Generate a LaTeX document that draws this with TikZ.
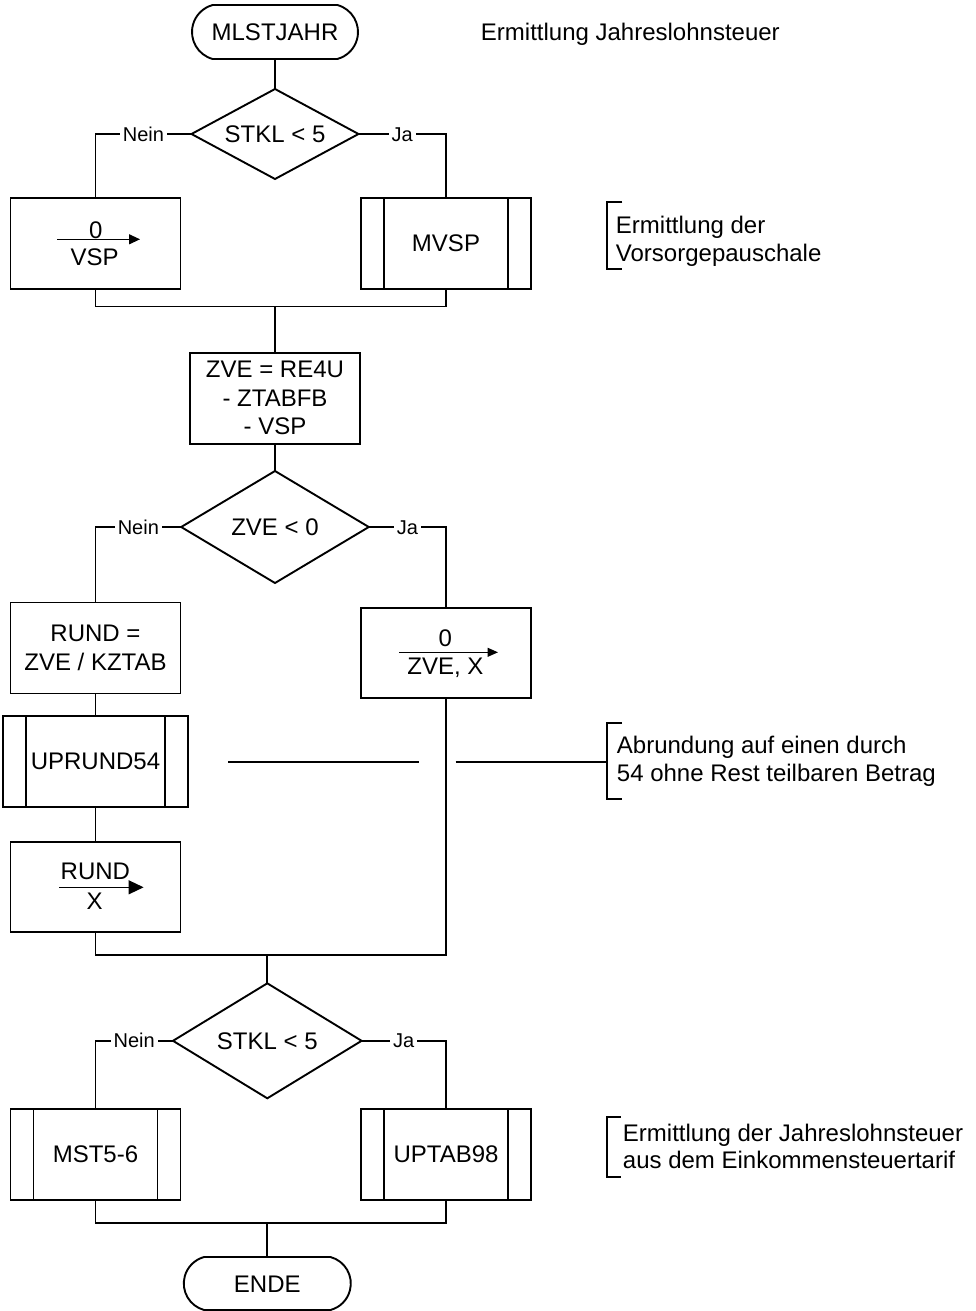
\documentclass[tikz,border=0pt]{standalone}
\usepackage{fontspec}
\setmainfont{Liberation Sans}
\usetikzlibrary{shapes.geometric,shapes.misc,arrows.meta}
\tikzset{
  txt/.style={inner sep=0pt, text height=17.2pt, text depth=0pt},
  term/.style={draw, rounded rectangle, rounded rectangle arc length=150, minimum width=166pt, minimum height=54pt, inner sep=0pt, outer sep=0pt, text height=17.2pt, text depth=0pt},
  dec/.style={draw, diamond, inner sep=0pt, outer sep=0pt, text height=17.2pt, text depth=0pt},
  proc/.style={draw, rectangle, minimum width=170pt, minimum height=91pt, inner sep=0pt, outer sep=0pt, align=center},
  lbl/.style={fill=white, font=\fontsize{20pt}{24pt}\selectfont, inner xsep=3pt, inner ysep=0pt, text height=14.3pt, text depth=0pt},
  ann/.style={inner sep=0pt, anchor=base west},
  valarrow/.style={line width=1.2pt},
}
\begin{document}
\begin{tikzpicture}[x=1pt, y=-1pt, line width=1.9pt,
  every node/.style={font=\fontsize{24pt}{28.5pt}\selectfont}]
\useasboundingbox (0,0) rectangle (976,1311);

% ---------- top part ----------
\node[term] (start) at (275,32) {MLSTJAHR};
\node[ann] (t0) at (480,40.5) {Ermittlung Jahreslohnsteuer};

\node[dec, shape aspect=1.86, minimum width=167pt, minimum height=90pt] (d1) at (275,134) {STKL < 5};

\node[proc] (vsp) at (95.5,243.5) {};
\node[txt] (vsp0) at (95.7,230) {0};
\node[txt] (vspv) at (94.6,256.7) {VSP};
\coordinate (va1) at (57,239.3);
\coordinate (va2) at (140,239.3);
\draw[valarrow, -{Triangle[length=11pt,width=10pt]}] (va1) -- (va2);

\node[proc] (mvsp) at (446,243.5) {MVSP};

\node[ann] (a1a) at (615,233.5) {Ermittlung der};
\node[ann] (a1b) at (615,261.5) {Vorsorgepauschale};
\draw (622.3,201.7) -- (606.7,201.7) -- (606.7,269.3) -- (622.3,269.3);

\draw (start) -- (d1.north);
\draw (d1.west) -- node[lbl] (n1) {Nein} (d1.west -| vsp.north) -- (vsp.north);
\draw (d1.east) -- node[lbl] (j1) {Ja} (d1.east -| mvsp.north) -- (mvsp.north);

\coordinate (m1) at (275,306.5);
\draw (vsp.south) |- (m1) -| (mvsp.south);

\node[proc] (zve) at (275,398.3) {ZVE = RE4U\\- ZTABFB\\- VSP};
\draw (m1) -- (zve.north);

\node[dec, shape aspect=1.67, minimum width=187.6pt, minimum height=112pt] (d2) at (275,527) {ZVE < 0};
\draw (zve.south) -- (d2.north);

% ---------- middle part ----------
\node[proc] (rund) at (95.5,648) {RUND =\\ZVE / KZTAB};
\node[proc, minimum height=89.7pt] (zvex) at (446,653) {};
\node[txt] (zvex0) at (445.4,638.3) {0};
\node[txt] (zvexv) at (445.4,666) {ZVE, X};
\coordinate (za1) at (399,652.3);
\coordinate (za2) at (498,652.3);
\draw[valarrow, -{Triangle[length=10.5pt,width=9pt]}] (za1) -- (za2);

\draw (d2.west) -- node[lbl] (n2) {Nein} (d2.west -| rund.north) -- (rund.north);
\draw (d2.east) -- node[lbl] (j2) {Ja} (d2.east -| zvex.north) -- (zvex.north);

\node[proc, minimum width=185.3pt] (uprund) at (95.5,761.5) {UPRUND54};
\draw (rund.south) -- (uprund.north);

\node[proc, minimum height=90pt] (rundx) at (95.5,887) {};
\node[txt] (rundx0) at (95.4,871.3) {RUND};
\node[txt] (rundxv) at (94.6,901.3) {X};
\coordinate (ra1) at (59,887.3);
\coordinate (ra2) at (143.6,887.3);
\draw[valarrow, -{Triangle[length=15pt,width=14pt]}] (ra1) -- (ra2);
\draw (uprund.south) -- (rundx.north);

% comment line with gap
\coordinate (c1) at (228,761.7);
\coordinate (c2) at (418.6,761.7);
\coordinate (c3) at (455.7,761.7);
\coordinate (c4) at (606.7,761.7);
\draw (c1) -- (c2);
\draw (c3) -- (c4);
\draw (622,723.3) -- (606.7,723.3) -- (606.7,799) -- (622,799);
\node[ann] (a2a) at (616,753.5) {Abrundung auf einen durch};
\node[ann] (a2b) at (616,781.3) {54 ohne Rest teilbaren Betrag};

\coordinate (m2) at (267.3,955);
\draw (rundx.south) |- (m2) -| (zvex.south);

% ---------- bottom part ----------
\node[dec, shape aspect=1.64, minimum width=188.6pt, minimum height=115pt] (d3) at (267.3,1040.8) {STKL < 5};
\draw (m2) -- (d3.north);

\node[proc] (mst) at (95.5,1154.5) {MST5-6};
\node[proc] (uptab) at (446,1154.5) {UPTAB98};
\draw (d3.west) -- node[lbl] (n3) {Nein} (d3.west -| mst.north) -- (mst.north);
\draw (d3.east) -- node[lbl] (j3) {Ja} (d3.east -| uptab.north) -- (uptab.north);

\draw (620.5,1116.7) -- (606.8,1116.7) -- (606.8,1176.7) -- (620.5,1176.7);
\node[ann] (a3a) at (622,1141) {Ermittlung der Jahreslohnsteuer};
\node[ann] (a3b) at (622,1168) {aus dem Einkommensteuertarif};

\coordinate (m3) at (267.3,1222.7);
\draw (mst.south) |- (m3) -| (uptab.south);

\node[term, minimum width=167pt, minimum height=53pt] (ende) at (267.3,1283.5) {ENDE};
\draw (m3) -- (ende.north);

% inner bars of subroutine boxes
\foreach \n in {mvsp,uprund,mst,uptab}{
  \draw ([xshift=23pt]\n.north west) -- ([xshift=23pt]\n.south west);
  \draw ([xshift=-23pt]\n.north east) -- ([xshift=-23pt]\n.south east);
}
\end{tikzpicture}
\end{document}
